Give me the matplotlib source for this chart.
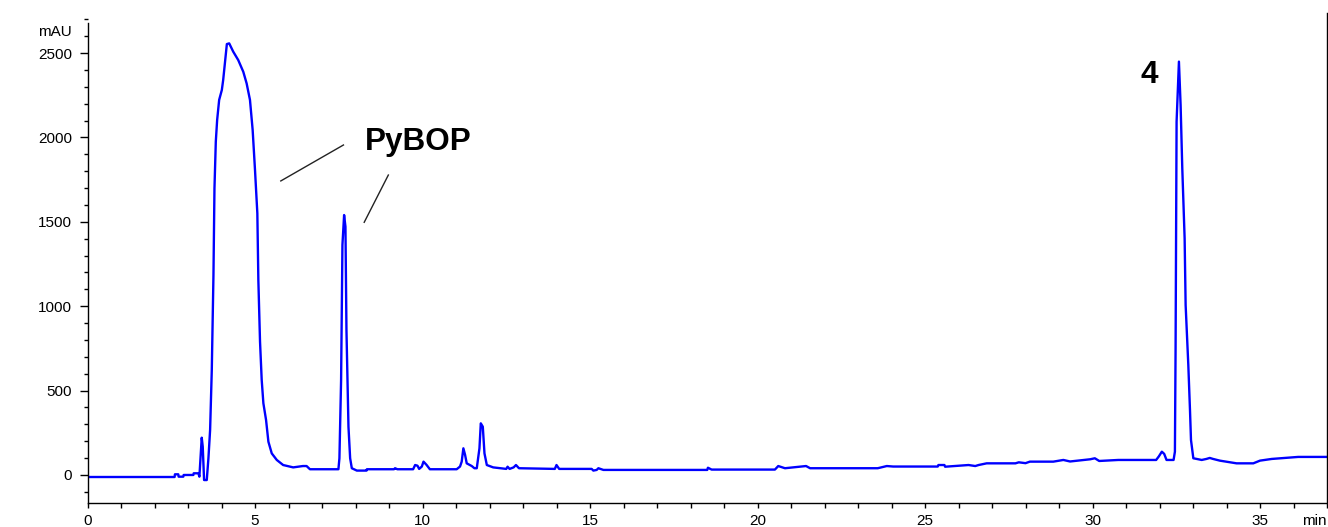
import matplotlib
matplotlib.use("Agg")
import matplotlib.pyplot as plt
from matplotlib.ticker import MultipleLocator

plt.rcParams['font.family'] = ['Liberation Sans', 'DejaVu Sans']

# retention time (min) and detector signal (mAU)
time_min = [
    0.0, 2.60, 2.61, 2.71, 2.72, 2.86, 2.87, 3.16, 3.17, 3.31, 3.34,
    3.41, 3.44, 3.48, 3.56, 3.61, 3.66, 3.71, 3.76, 3.79, 3.83, 3.87,
    3.93, 4.01, 4.05, 4.10, 4.16, 4.23, 4.35, 4.50, 4.65, 4.75, 4.85,
    4.93, 5.00, 5.07, 5.10, 5.15, 5.20, 5.25, 5.33, 5.40, 5.50, 5.65,
    5.84, 6.14, 6.43, 6.54, 6.64, 7.49, 7.52, 7.57, 7.61, 7.66, 7.70,
    7.73, 7.79, 7.84, 7.89, 8.04, 8.33, 8.34, 9.15, 9.18, 9.25, 9.72,
    9.78, 9.85, 9.90, 9.98, 10.03, 10.12, 10.22, 11.02, 11.12, 11.17,
    11.22, 11.27, 11.32, 11.47, 11.55, 11.62, 11.70, 11.74, 11.80,
    11.85, 11.92, 12.11, 12.50, 12.54, 12.60, 12.72, 12.79, 12.88,
    13.95, 14.00, 14.08, 15.05, 15.10, 15.20, 15.25, 15.40, 18.50,
    18.52, 18.63, 20.52, 20.62, 20.82, 21.45, 21.57, 23.59, 23.86,
    24.05, 25.38, 25.40, 25.58, 25.60, 26.00, 26.30, 26.50, 26.60,
    26.84, 27.70, 27.80, 28.00, 28.13, 28.83, 29.00, 29.13, 29.33,
    29.93, 30.07, 30.20, 30.77, 31.90, 31.98, 32.07, 32.14, 32.21,
    32.42, 32.46, 32.48, 32.51, 32.58, 32.63, 32.68, 32.75, 32.78,
    32.86, 32.91, 32.94, 33.01, 33.26, 33.40, 33.50, 33.60, 33.80,
    34.30, 34.80, 35.00, 35.35, 36.14, 37.00,
]
signal_mau = [
    -12, -12, 4, 4, -10, -10, 0, 0, 10, 10, -10,
    221, 168, -30, -30, 100, 267, 622, 1185, 1698, 1975, 2103,
    2222, 2281, 2340, 2439, 2553, 2557, 2508, 2458, 2389, 2320, 2222,
    2044, 1807, 1550, 1155, 790, 563, 425, 326, 197, 128, 89,
    59, 45, 53, 53, 34, 34, 99, 563, 1363, 1540, 1471,
    859, 286, 99, 40, 26, 26, 34, 34, 40, 34, 34,
    59, 55, 36, 50, 79, 60, 34, 34, 50, 79,
    158, 120, 69, 53, 40, 40, 158, 306, 286,
    128, 59, 45, 36, 49, 36, 45, 59, 40,
    36, 59, 36, 36, 26, 30, 40, 30, 30,
    43, 32, 32, 53, 40, 53, 40, 40, 53,
    50, 50, 59, 59, 49, 55, 59, 53, 59,
    69, 69, 75, 70, 79, 79, 85, 89, 80,
    93, 99, 83, 89, 89, 110, 138, 125, 89,
    89, 138, 750, 2093, 2449, 2192, 1817, 1402, 1007,
    652, 385, 207, 99, 89, 95, 101, 95, 85,
    69, 69, 85, 95, 107, 107,
]

peak_labels = ["PyBOP", "4"]

fig = plt.figure(figsize=(13.28, 5.27), dpi=100)
ax = fig.add_axes([87.5 / 1328, 1 - 503 / 527, (1327 - 87.5) / 1328, (503 - 13) / 527])

ax.plot(time_min, signal_mau, color="#0000ff", lw=1.7)

ax.set_xlim(0, 37.0)
ax.set_ylim(-166, 2737)

ax.spines["top"].set_visible(False)
ax.spines["left"].set_bounds(-166, 2678)
for s in ("left", "bottom", "right"):
    ax.spines[s].set_linewidth(1.0)

ax.xaxis.set_minor_locator(MultipleLocator(1))
ax.yaxis.set_minor_locator(MultipleLocator(100))
ax.set_xticks(range(0, 36, 5))
ax.set_yticks(range(0, 2501, 500))
ax.tick_params(axis="x", which="both", length=3.6, width=1, pad=4.5, labelsize=11)
ax.tick_params(axis="y", which="major", length=5.8, width=1, pad=5.5, labelsize=11)
ax.tick_params(axis="y", which="minor", length=3, width=1)

fig.text(72 / 1328, 1 - 32 / 527, "mAU", ha="right", va="center", fontsize=11)
fig.text(1302 / 1328, 1 - 521 / 527, "min", ha="left", va="center", fontsize=11)

# peak labels with leader lines
ax.text(9.87, 1973, peak_labels[0], fontsize=22.7, fontweight="bold", ha="center", va="center")
ax.plot([5.77, 7.64], [1742, 1955], color="#222222", lw=1)
ax.plot([8.26, 8.98], [1497, 1777], color="#222222", lw=1)
ax.text(31.68, 2368, peak_labels[1], fontsize=22.7, fontweight="bold", ha="center", va="center")

fig.savefig("out.png", dpi=100)
